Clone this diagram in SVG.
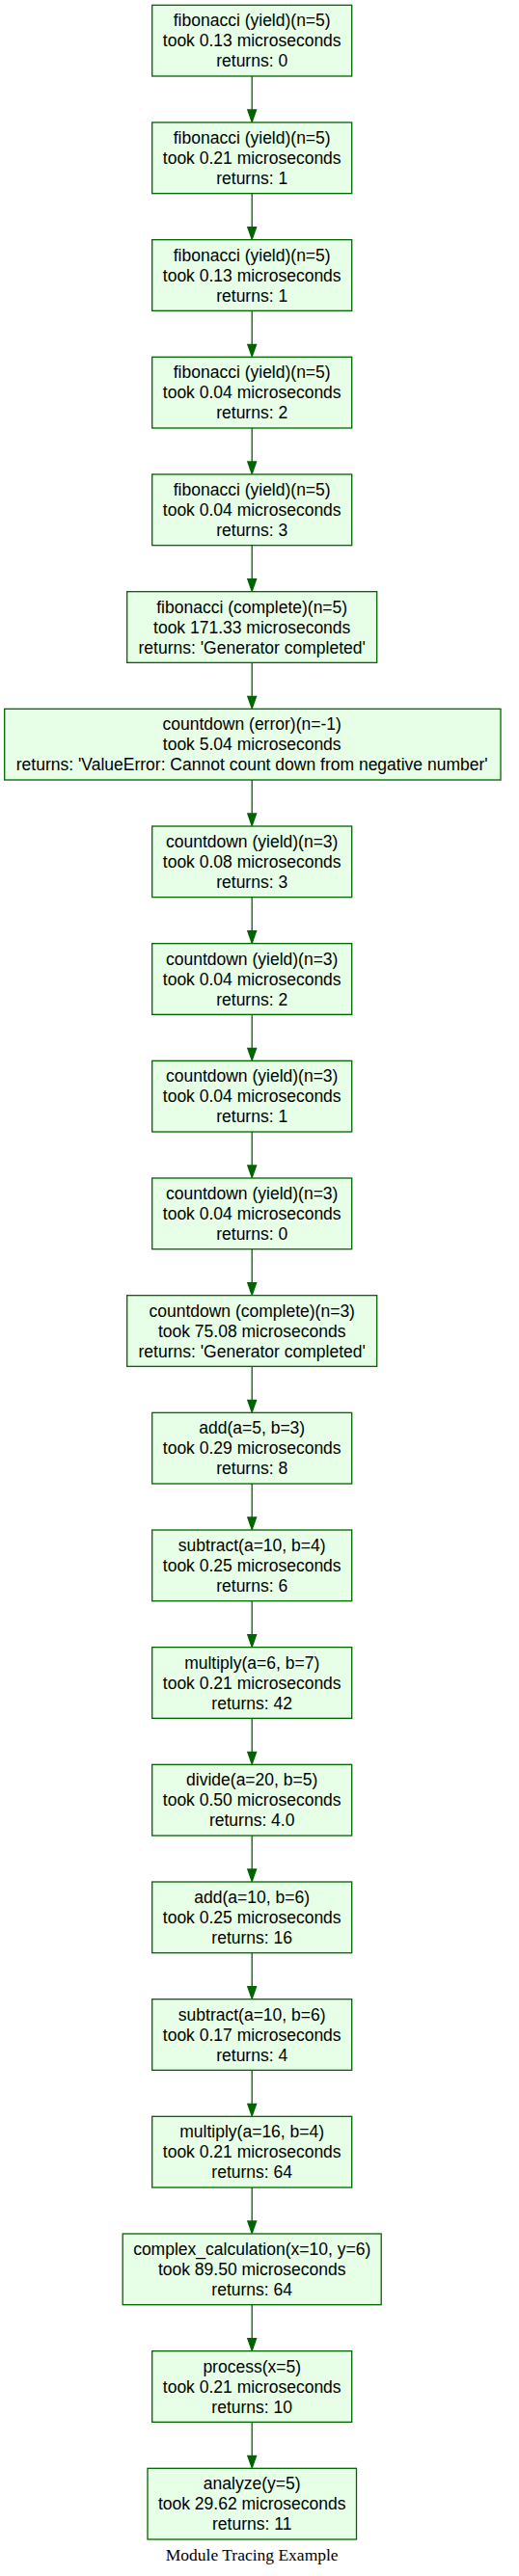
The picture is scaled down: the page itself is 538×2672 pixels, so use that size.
<svg xmlns="http://www.w3.org/2000/svg" width="538" height="2672" viewBox="0 0 538 2672">
<style>
.n rect{fill:#e6ffe6;stroke:#006400;stroke-width:1.3}
.n text{font-family:"Liberation Sans",Arial,sans-serif;font-size:17.5px;fill:#000;text-anchor:middle}
.e line{stroke:#006400;stroke-width:1.3}
.e polygon{fill:#006400;stroke:#006400;stroke-width:1.3}
.cap{font-family:"Liberation Serif","Times New Roman",serif;font-size:17.5px;fill:#000;text-anchor:middle}
</style>
<rect width="538" height="2672" fill="#fff"/>
<g id="edges" class="e">
<line x1="261.2" y1="79" x2="261.2" y2="114.5"/><polygon points="261.2,126.5 256.8,114 265.6,114"/>
<line x1="261.2" y1="200.7" x2="261.2" y2="236.2"/><polygon points="261.2,248.2 256.8,235.7 265.6,235.7"/>
<line x1="261.2" y1="322.3" x2="261.2" y2="357.8"/><polygon points="261.2,369.8 256.8,357.3 265.6,357.3"/>
<line x1="261.2" y1="444" x2="261.2" y2="479.5"/><polygon points="261.2,491.5 256.8,479 265.6,479"/>
<line x1="261.2" y1="565.7" x2="261.2" y2="601.2"/><polygon points="261.2,613.2 256.8,600.7 265.6,600.7"/>
<line x1="261.2" y1="687.3" x2="261.2" y2="722.8"/><polygon points="261.2,734.8 256.8,722.3 265.6,722.3"/>
<line x1="261.2" y1="809" x2="261.2" y2="844.5"/><polygon points="261.2,856.5 256.8,844 265.6,844"/>
<line x1="261.2" y1="930.7" x2="261.2" y2="966.2"/><polygon points="261.2,978.2 256.8,965.7 265.6,965.7"/>
<line x1="261.2" y1="1052.3" x2="261.2" y2="1087.8"/><polygon points="261.2,1099.8 256.8,1087.3 265.6,1087.3"/>
<line x1="261.2" y1="1174" x2="261.2" y2="1209.5"/><polygon points="261.2,1221.5 256.8,1209 265.6,1209"/>
<line x1="261.2" y1="1295.7" x2="261.2" y2="1331.2"/><polygon points="261.2,1343.2 256.8,1330.7 265.6,1330.7"/>
<line x1="261.2" y1="1417.3" x2="261.2" y2="1452.8"/><polygon points="261.2,1464.8 256.8,1452.3 265.6,1452.3"/>
<line x1="261.2" y1="1539" x2="261.2" y2="1574.5"/><polygon points="261.2,1586.5 256.8,1574 265.6,1574"/>
<line x1="261.2" y1="1660.7" x2="261.2" y2="1696.2"/><polygon points="261.2,1708.2 256.8,1695.7 265.6,1695.7"/>
<line x1="261.2" y1="1782.3" x2="261.2" y2="1817.8"/><polygon points="261.2,1829.8 256.8,1817.3 265.6,1817.3"/>
<line x1="261.2" y1="1904" x2="261.2" y2="1939.5"/><polygon points="261.2,1951.5 256.8,1939 265.6,1939"/>
<line x1="261.2" y1="2025.7" x2="261.2" y2="2061.2"/><polygon points="261.2,2073.2 256.8,2060.7 265.6,2060.7"/>
<line x1="261.2" y1="2147.3" x2="261.2" y2="2182.8"/><polygon points="261.2,2194.8 256.8,2182.3 265.6,2182.3"/>
<line x1="261.2" y1="2269" x2="261.2" y2="2304.5"/><polygon points="261.2,2316.5 256.8,2304 265.6,2304"/>
<line x1="261.2" y1="2390.7" x2="261.2" y2="2426.2"/><polygon points="261.2,2438.2 256.8,2425.7 265.6,2425.7"/>
<line x1="261.2" y1="2512.3" x2="261.2" y2="2547.8"/><polygon points="261.2,2559.8 256.8,2547.3 265.6,2547.3"/>
</g>
<g id="n0" class="n" transform="translate(0,5.33)"><rect x="157.7" y="0" width="207" height="73.67"/><text x="261.2" y="21.9">fibonacci (yield)(n=5)</text><text x="261.2" y="42.9">took 0.13 microseconds</text><text x="261.2" y="63.9">returns: 0</text></g>
<g id="n1" class="n" transform="translate(0,127)"><rect x="157.7" y="0" width="207" height="73.67"/><text x="261.2" y="21.9">fibonacci (yield)(n=5)</text><text x="261.2" y="42.9">took 0.21 microseconds</text><text x="261.2" y="63.9">returns: 1</text></g>
<g id="n2" class="n" transform="translate(0,248.67)"><rect x="157.7" y="0" width="207" height="73.67"/><text x="261.2" y="21.9">fibonacci (yield)(n=5)</text><text x="261.2" y="42.9">took 0.13 microseconds</text><text x="261.2" y="63.9">returns: 1</text></g>
<g id="n3" class="n" transform="translate(0,370.33)"><rect x="157.7" y="0" width="207" height="73.67"/><text x="261.2" y="21.9">fibonacci (yield)(n=5)</text><text x="261.2" y="42.9">took 0.04 microseconds</text><text x="261.2" y="63.9">returns: 2</text></g>
<g id="n4" class="n" transform="translate(0,492)"><rect x="157.7" y="0" width="207" height="73.67"/><text x="261.2" y="21.9">fibonacci (yield)(n=5)</text><text x="261.2" y="42.9">took 0.04 microseconds</text><text x="261.2" y="63.9">returns: 3</text></g>
<g id="n5" class="n" transform="translate(0,613.67)"><rect x="131.7" y="0" width="259" height="73.67"/><text x="261.2" y="21.9">fibonacci (complete)(n=5)</text><text x="261.2" y="42.9">took 171.33 microseconds</text><text x="261.2" y="63.9">returns: 'Generator completed'</text></g>
<g id="n6" class="n" transform="translate(0,735.33)"><rect x="4.7" y="0" width="514.3" height="73.67"/><text x="261.2" y="21.9">countdown (error)(n=-1)</text><text x="261.2" y="42.9">took 5.04 microseconds</text><text x="261.2" y="63.9">returns: 'ValueError: Cannot count down from negative number'</text></g>
<g id="n7" class="n" transform="translate(0,857)"><rect x="157.7" y="0" width="207" height="73.67"/><text x="261.2" y="21.9">countdown (yield)(n=3)</text><text x="261.2" y="42.9">took 0.08 microseconds</text><text x="261.2" y="63.9">returns: 3</text></g>
<g id="n8" class="n" transform="translate(0,978.67)"><rect x="157.7" y="0" width="207" height="73.67"/><text x="261.2" y="21.9">countdown (yield)(n=3)</text><text x="261.2" y="42.9">took 0.04 microseconds</text><text x="261.2" y="63.9">returns: 2</text></g>
<g id="n9" class="n" transform="translate(0,1100.33)"><rect x="157.7" y="0" width="207" height="73.67"/><text x="261.2" y="21.9">countdown (yield)(n=3)</text><text x="261.2" y="42.9">took 0.04 microseconds</text><text x="261.2" y="63.9">returns: 1</text></g>
<g id="n10" class="n" transform="translate(0,1222)"><rect x="157.7" y="0" width="207" height="73.67"/><text x="261.2" y="21.9">countdown (yield)(n=3)</text><text x="261.2" y="42.9">took 0.04 microseconds</text><text x="261.2" y="63.9">returns: 0</text></g>
<g id="n11" class="n" transform="translate(0,1343.67)"><rect x="131.7" y="0" width="259" height="73.67"/><text x="261.2" y="21.9">countdown (complete)(n=3)</text><text x="261.2" y="42.9">took 75.08 microseconds</text><text x="261.2" y="63.9">returns: 'Generator completed'</text></g>
<g id="n12" class="n" transform="translate(0,1465.33)"><rect x="157.7" y="0" width="207" height="73.67"/><text x="261.2" y="21.9">add(a=5, b=3)</text><text x="261.2" y="42.9">took 0.29 microseconds</text><text x="261.2" y="63.9">returns: 8</text></g>
<g id="n13" class="n" transform="translate(0,1587)"><rect x="157.7" y="0" width="207" height="73.67"/><text x="261.2" y="21.9">subtract(a=10, b=4)</text><text x="261.2" y="42.9">took 0.25 microseconds</text><text x="261.2" y="63.9">returns: 6</text></g>
<g id="n14" class="n" transform="translate(0,1708.67)"><rect x="157.7" y="0" width="207" height="73.67"/><text x="261.2" y="21.9">multiply(a=6, b=7)</text><text x="261.2" y="42.9">took 0.21 microseconds</text><text x="261.2" y="63.9">returns: 42</text></g>
<g id="n15" class="n" transform="translate(0,1830.33)"><rect x="157.7" y="0" width="207" height="73.67"/><text x="261.2" y="21.9">divide(a=20, b=5)</text><text x="261.2" y="42.9">took 0.50 microseconds</text><text x="261.2" y="63.9">returns: 4.0</text></g>
<g id="n16" class="n" transform="translate(0,1952)"><rect x="157.7" y="0" width="207" height="73.67"/><text x="261.2" y="21.9">add(a=10, b=6)</text><text x="261.2" y="42.9">took 0.25 microseconds</text><text x="261.2" y="63.9">returns: 16</text></g>
<g id="n17" class="n" transform="translate(0,2073.67)"><rect x="157.7" y="0" width="207" height="73.67"/><text x="261.2" y="21.9">subtract(a=10, b=6)</text><text x="261.2" y="42.9">took 0.17 microseconds</text><text x="261.2" y="63.9">returns: 4</text></g>
<g id="n18" class="n" transform="translate(0,2195.33)"><rect x="157.7" y="0" width="207" height="73.67"/><text x="261.2" y="21.9">multiply(a=16, b=4)</text><text x="261.2" y="42.9">took 0.21 microseconds</text><text x="261.2" y="63.9">returns: 64</text></g>
<g id="n19" class="n" transform="translate(0,2317)"><rect x="127.2" y="0" width="268" height="73.67"/><text x="261.2" y="21.9">complex_calculation(x=10, y=6)</text><text x="261.2" y="42.9">took 89.50 microseconds</text><text x="261.2" y="63.9">returns: 64</text></g>
<g id="n20" class="n" transform="translate(0,2438.67)"><rect x="157.7" y="0" width="207" height="73.67"/><text x="261.2" y="21.9">process(x=5)</text><text x="261.2" y="42.9">took 0.21 microseconds</text><text x="261.2" y="63.9">returns: 10</text></g>
<g id="n21" class="n" transform="translate(0,2560.33)"><rect x="153" y="0" width="216.5" height="73.67"/><text x="261.2" y="21.9">analyze(y=5)</text><text x="261.2" y="42.9">took 29.62 microseconds</text><text x="261.2" y="63.9">returns: 11</text></g>
<text class="cap" x="261.2" y="2656">Module Tracing Example</text>
</svg>
